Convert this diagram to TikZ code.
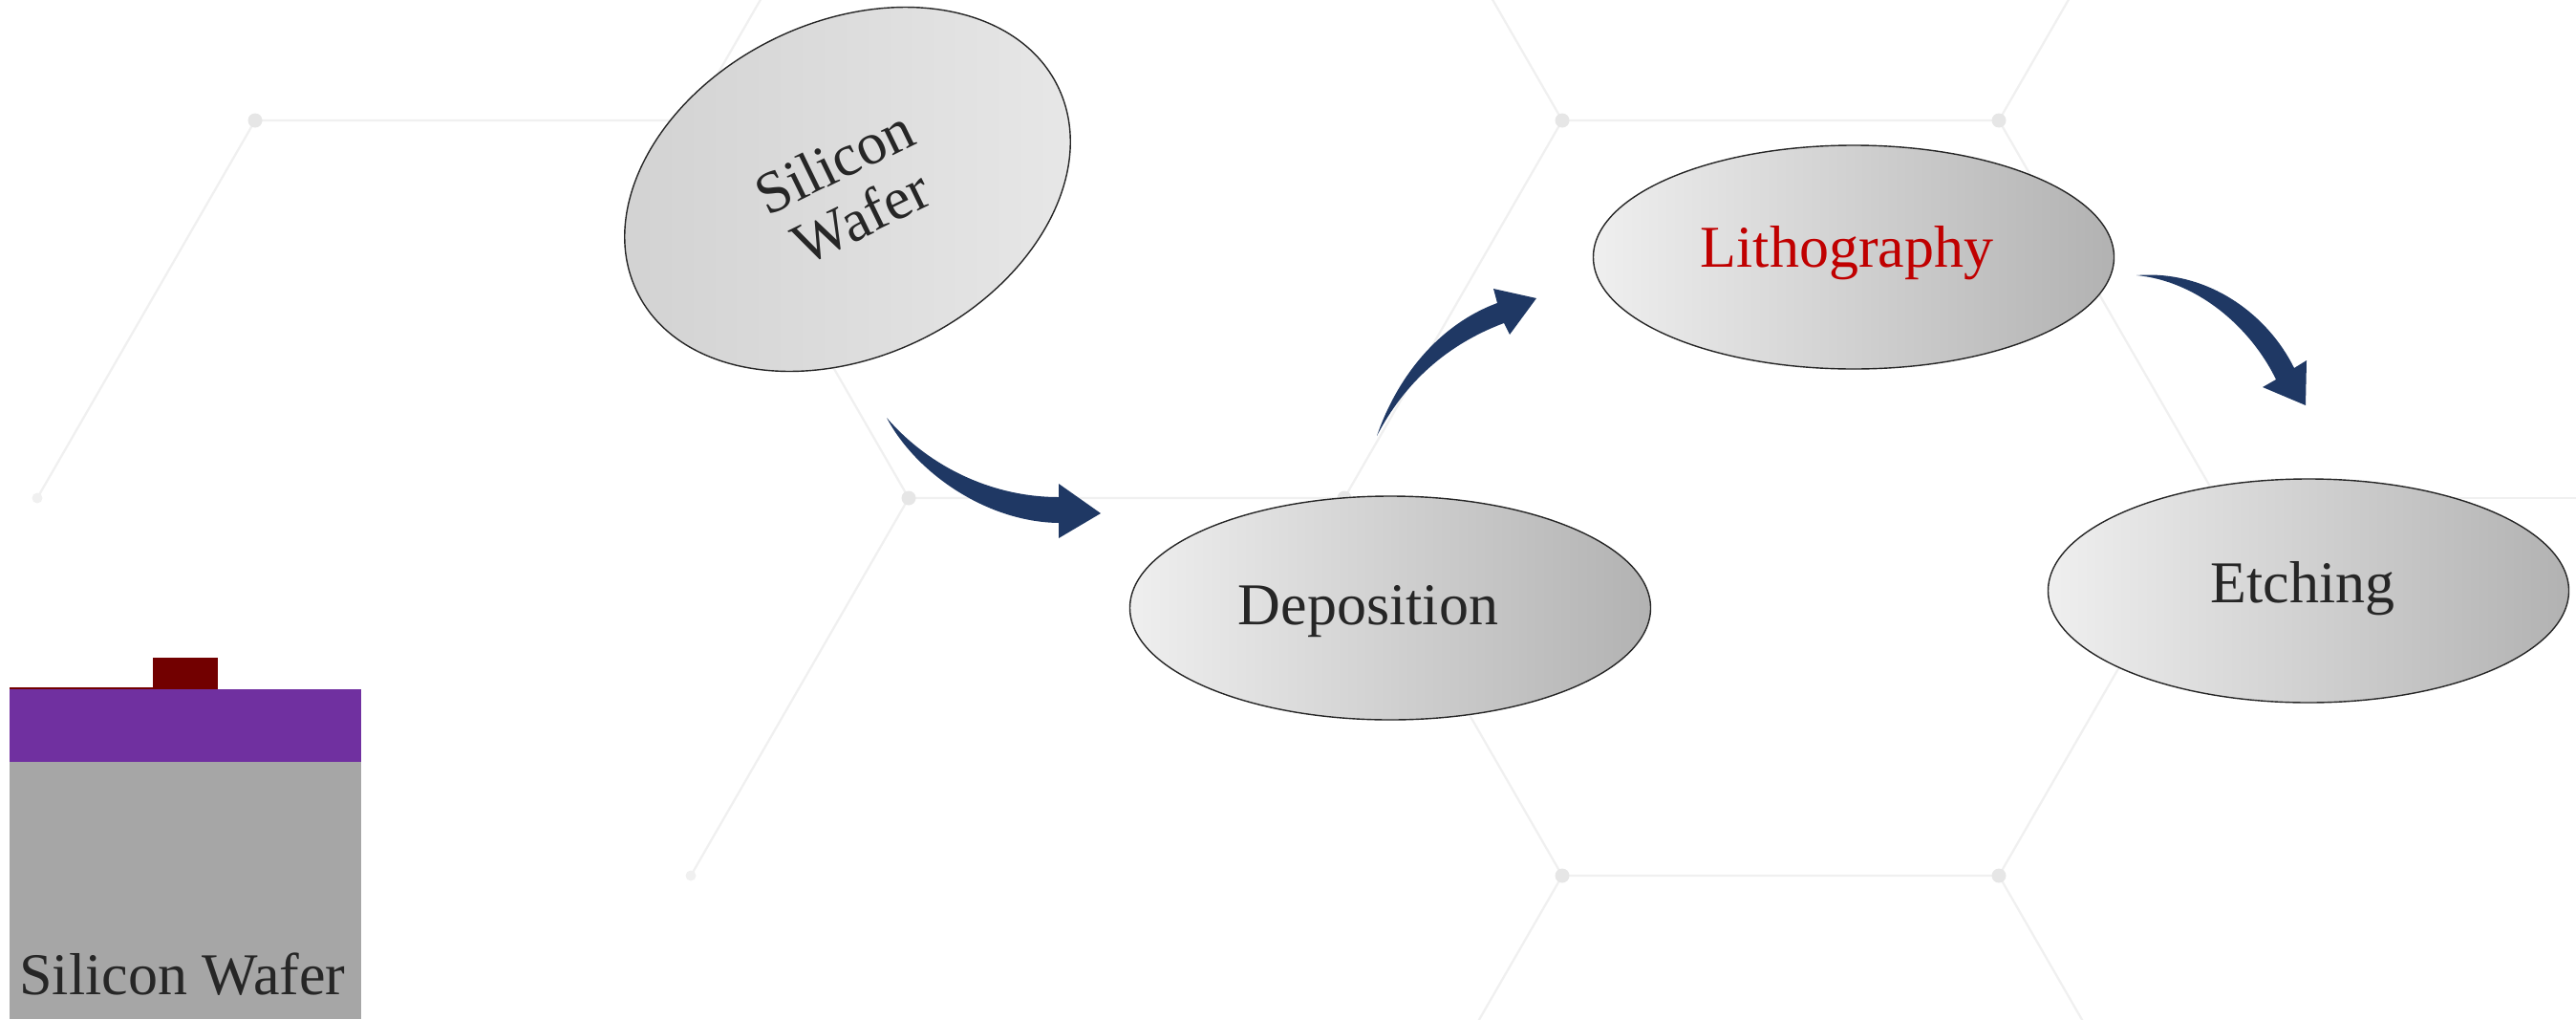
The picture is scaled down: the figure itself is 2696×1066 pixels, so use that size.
\documentclass[tikz,border=0pt]{standalone}
\usepackage{fontspec}
\setmainfont{Liberation Serif}
\usetikzlibrary{shapes.geometric}
\definecolor{hexline}{HTML}{F0F0F0}
\definecolor{hexdot}{HTML}{E6E6E6}
\definecolor{navy}{HTML}{1F3864}
\definecolor{txt}{HTML}{262626}
\definecolor{litho}{HTML}{C00000}
\definecolor{purp}{HTML}{7030A0}
\definecolor{wafergray}{HTML}{A6A6A6}
\definecolor{darkred}{HTML}{720000}
\definecolor{ovalL}{HTML}{EFEFEF}
\definecolor{ovalR}{HTML}{B2B2B2}
\begin{document}
\begin{tikzpicture}[x=1pt,y=-1pt,
  hexedge/.style={draw=hexline, line width=2.3pt},
  hexvertex/.style={circle, fill=hexdot, inner sep=0pt, minimum size=15pt},
  stepoval/.style={ellipse, draw=black!85, line width=1.4pt, minimum width=545pt,
    minimum height=234pt, inner sep=0pt, left color=ovalL, right color=ovalR,
    text=txt, font=\fontsize{62}{64}\selectfont},
  steplabel/.style={inner sep=0pt, anchor=base, text=txt, font=\fontsize{62}{64}\selectfont},
  flowarrow/.style={fill=navy}
]
\useasboundingbox (0,0) rectangle (2696,1066);

% ---------- background honeycomb ----------
\coordinate (A) at (267,126);
\coordinate (K) at (723,126);
\coordinate (B) at (39,521);
\coordinate (C) at (951,521);
\coordinate (D) at (723,916);
\coordinate (J) at (1407,521);
\coordinate (E) at (1635,126);
\coordinate (F) at (2092,126);
\coordinate (I) at (2320,521);
\coordinate (G) at (1635,916);
\coordinate (H) at (2092,916);
\coordinate (KT) at (951,-269);
\coordinate (ET) at (1407,-269);
\coordinate (FT) at (2320,-269);
\coordinate (GB) at (1407,1311);
\coordinate (HB) at (2320,1311);
\coordinate (IR) at (2800,521);
\begin{scope}
\clip (0,0) rectangle (2696,1066);
\draw[hexedge] (B) -- (A) -- (K) -- (C) -- (D);
\draw[hexedge] (K) -- (KT);
\draw[hexedge] (C) -- (J) -- (E) -- (F) -- (I) -- (H) -- (G) -- (J);
\draw[hexedge] (E) -- (ET);
\draw[hexedge] (F) -- (FT);
\draw[hexedge] (G) -- (GB);
\draw[hexedge] (H) -- (HB);
\draw[hexedge] (I) -- (IR);
\end{scope}
\foreach \v in {A,C,J,E,F,G,H}
  \node[hexvertex] at (\v) {};
\foreach \v in {B,D}
  \node[hexvertex, minimum size=11pt, fill=hexline] at (\v) {};

% ---------- process ovals ----------
\node[stepoval, minimum width=490pt, minimum height=350pt, rotate=26,
      left color=black!18, right color=black!9, align=center]
      (wafer) at (887,198) {Silicon\\Wafer};
\node[stepoval] (depo) at (1455,636) {};
\node[steplabel] (depoT) at (1432,653) {Deposition};
\node[stepoval] (litho) at (1940,269) {};
\node[steplabel, text=litho] (lithoT) at (1933,279) {Lithography};
\node[stepoval] (etch) at (2416,618) {};
\node[steplabel] (etchT) at (2410,630) {Etching};

% ---------- curved arrows ----------
\fill[flowarrow] (928,437) .. controls (972,488) and (1038,520) .. (1108,520)
  -- (1108,506) -- (1152,537) -- (1108,563) -- (1108,547)
  .. controls (1032,546) and (958,494) .. (928,437) -- cycle;
\fill[flowarrow] (1441,456) .. controls (1462,395) and (1505,340) .. (1567,317)
  -- (1563,302) -- (1608,312) -- (1580,350) -- (1574,338)
  .. controls (1515,360) and (1470,400) .. (1441,456) -- cycle;
\fill[flowarrow] (2236,288) .. controls (2312,282) and (2374,330) .. (2401,385)
  -- (2414,377) -- (2413,424) -- (2368,405) -- (2382,397)
  .. controls (2356,343) and (2300,294) .. (2236,288) -- cycle;

% ---------- wafer cross-section ----------
\fill[wafergray] (10,797) rectangle (378,1066);
\fill[purp] (10,721) rectangle (378,797);
\fill[darkred] (160,688) rectangle (228,721);
\fill[darkred] (10,719) rectangle (160,721);
\node[steplabel] (wafertext) at (191,1040) {Silicon Wafer};
\end{tikzpicture}
\end{document}
